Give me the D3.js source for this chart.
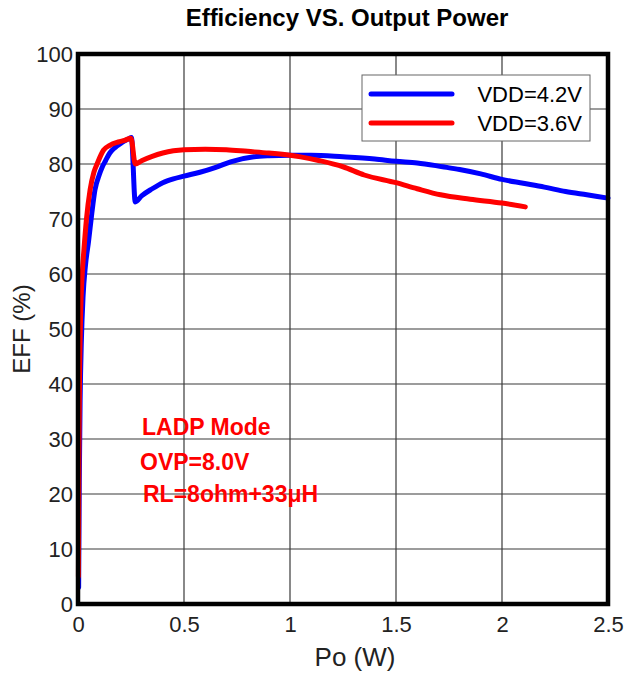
<!DOCTYPE html>
<html>
<head>
<meta charset="utf-8">
<script src="https://cdn.jsdelivr.net/npm/d3@7"></script>
<style>
  html, body { margin: 0; padding: 0; background: #fff; }
  svg { display: block; font-family: Arial, "Liberation Sans", sans-serif; }
</style>
</head>
<body>
<svg id="chart" width="635" height="676"></svg>
<script>
// Efficiency curves, output power in W vs efficiency in %
const po42 = [0.003, 0.006, 0.010, 0.016, 0.024, 0.035, 0.050, 0.065, 0.080, 0.100, 0.115, 0.130, 0.150, 0.175, 0.200, 0.220, 0.240, 0.252, 0.270, 0.300, 0.350, 0.400, 0.450, 0.500, 0.575, 0.650, 0.720, 0.830, 0.900, 1.000, 1.100, 1.250, 1.400, 1.500, 1.600, 1.720, 1.800, 1.900, 2.000, 2.100, 2.200, 2.300, 2.400, 2.500];
const eff42 = [3.0, 22.0, 37.0, 48.0, 56.0, 61.5, 66.0, 71.0, 75.3, 78.0, 79.5, 80.6, 82.0, 83.0, 83.7, 84.2, 84.6, 84.8, 73.1, 74.2, 75.5, 76.6, 77.3, 77.8, 78.5, 79.4, 80.4, 81.3, 81.5, 81.6, 81.6, 81.3, 80.9, 80.5, 80.2, 79.5, 79.0, 78.2, 77.2, 76.5, 75.8, 75.0, 74.4, 73.8];
const po36 = [0.002, 0.004, 0.007, 0.012, 0.020, 0.028, 0.040, 0.057, 0.075, 0.090, 0.120, 0.150, 0.190, 0.220, 0.250, 0.270, 0.300, 0.350, 0.400, 0.450, 0.500, 0.600, 0.700, 0.800, 0.900, 1.000, 1.050, 1.140, 1.250, 1.350, 1.500, 1.600, 1.710, 1.850, 2.000, 2.110];
const eff36 = [5.0, 25.0, 40.0, 52.0, 60.0, 64.4, 70.0, 75.3, 78.5, 80.0, 82.5, 83.4, 84.0, 84.3, 84.7, 80.0, 80.6, 81.4, 82.0, 82.4, 82.6, 82.7, 82.6, 82.3, 82.0, 81.6, 81.3, 80.6, 79.5, 78.0, 76.6, 75.5, 74.4, 73.6, 72.9, 72.2];

const xTicks = [0, 0.5, 1, 1.5, 2, 2.5];
const xTickLabels = ["0", "0.5", "1", "1.5", "2", "2.5"];
const yTicks = [0, 10, 20, 30, 40, 50, 60, 70, 80, 90, 100];

const seriesNames = ["VDD=4.2V", "VDD=3.6V"];
const seriesColors = ["#0000ff", "#ff0000"];
const notes = ["LADP Mode", "OVP=8.0V", "RL=8ohm+33\u03bcH"];

const svg = d3.select("#chart");
const plot = { left: 78, right: 608, top: 54, bottom: 604 };

const x = d3.scaleLinear().domain([0, 2.5]).range([plot.left, plot.right]);
const y = d3.scaleLinear().domain([0, 100]).range([plot.bottom, plot.top]);

// Title
svg.append("text")
  .attr("x", 347).attr("y", 26)
  .attr("text-anchor", "middle")
  .attr("font-size", 24).attr("font-weight", "bold")
  .attr("fill", "#000")
  .text("Efficiency VS. Output Power");

// Grid
const grid = svg.append("g");
grid.selectAll("line.gx").data(xTicks.slice(1, -1)).join("line")
  .attr("x1", d => x(d)).attr("x2", d => x(d))
  .attr("y1", plot.top).attr("y2", plot.bottom)
  .attr("stroke", "#3a3a3a").attr("stroke-width", 1.2);
grid.selectAll("line.gy").data(yTicks.slice(1, -1)).join("line")
  .attr("y1", d => y(d)).attr("y2", d => y(d))
  .attr("x1", plot.left).attr("x2", plot.right)
  .attr("stroke", "#3a3a3a").attr("stroke-width", 1.2);

// Axes (tick labels only; frame drawn separately)
const xAxis = d3.axisBottom(x).tickValues(xTicks)
  .tickFormat((d, i) => xTickLabels[i]).tickSize(0).tickPadding(12);
const gx = svg.append("g").attr("transform", `translate(0,${plot.bottom})`).call(xAxis);
gx.select(".domain").remove();
gx.selectAll("text").attr("font-size", 22).attr("fill", "#222")
  .attr("font-family", "Arial, 'Liberation Sans', sans-serif");

const yAxis = d3.axisLeft(y).tickValues(yTicks).tickSize(0).tickPadding(5);
const gy = svg.append("g").attr("transform", `translate(${plot.left},0)`).call(yAxis);
gy.select(".domain").remove();
gy.selectAll("text").attr("font-size", 22).attr("fill", "#222")
  .attr("font-family", "Arial, 'Liberation Sans', sans-serif");

// Axis titles
svg.append("text")
  .attr("x", 355).attr("y", 666)
  .attr("text-anchor", "middle")
  .attr("font-size", 26).attr("fill", "#222")
  .text("Po (W)");
svg.append("text")
  .attr("transform", `translate(30,${(plot.top + plot.bottom) / 2}) rotate(-90)`)
  .attr("text-anchor", "middle")
  .attr("font-size", 24).attr("fill", "#222")
  .text("EFF (%)");

// Curves
const line = d3.line().x(d => x(d[0])).y(d => y(d[1])).curve(d3.curveMonotoneX);
const series = [d3.zip(po42, eff42), d3.zip(po36, eff36)];
svg.append("g").selectAll("path").data(series).join("path")
  .attr("d", line)
  .attr("fill", "none")
  .attr("stroke", (d, i) => seriesColors[i])
  .attr("stroke-width", 5)
  .attr("stroke-linejoin", "round")
  .attr("stroke-linecap", "round");

// Frame
svg.append("rect")
  .attr("x", plot.left).attr("y", plot.top)
  .attr("width", plot.right - plot.left).attr("height", plot.bottom - plot.top)
  .attr("fill", "none").attr("stroke", "#000").attr("stroke-width", 4.5);

// Legend
const lg = svg.append("g").attr("transform", "translate(362,75)");
lg.append("rect").attr("width", 228).attr("height", 66)
  .attr("fill", "#fff").attr("stroke", "#666").attr("stroke-width", 1);
const items = lg.selectAll("g.item").data(seriesNames).join("g")
  .attr("transform", (d, i) => `translate(0,${19 + i * 29})`);
items.append("line")
  .attr("x1", 9).attr("x2", 90).attr("y1", 0).attr("y2", 0)
  .attr("stroke", (d, i) => seriesColors[i]).attr("stroke-width", 5)
  .attr("stroke-linecap", "round");
items.append("text")
  .attr("x", 220).attr("y", 8)
  .attr("text-anchor", "end")
  .attr("font-size", 22).attr("fill", "#000")
  .text(d => d);

// Operating-condition notes
svg.append("g").selectAll("text").data(notes).join("text")
  .attr("x", (d, i) => [142, 140, 143][i])
  .attr("y", (d, i) => [435, 470, 502][i])
  .attr("font-size", 23).attr("font-weight", "bold")
  .attr("fill", "#ff0000")
  .text(d => d);
</script>
</body>
</html>
